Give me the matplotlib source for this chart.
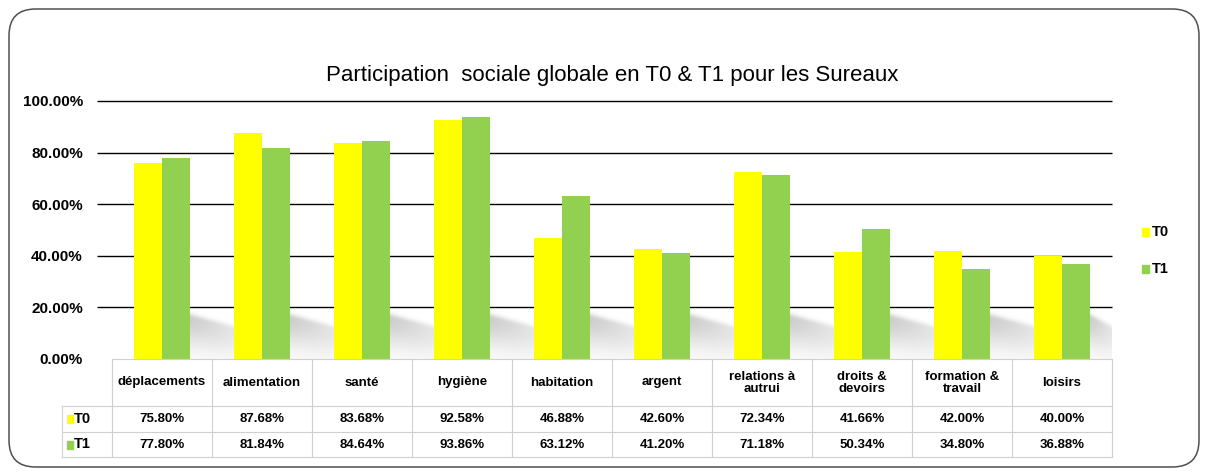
import numpy as np
import matplotlib
matplotlib.use("Agg")
import matplotlib.pyplot as plt
from matplotlib.patches import FancyBboxPatch, Rectangle
from matplotlib.lines import Line2D

plt.rcParams['font.family'] = ['Liberation Sans Narrow', 'Liberation Sans', 'DejaVu Sans']

# data
categories = ["déplacements", "alimentation", "santé", "hygiène", "habitation",
              "argent", "relations à\nautrui", "droits &\ndevoirs",
              "formation &\ntravail", "loisirs"]
t0 = [75.80, 87.68, 83.68, 92.58, 46.88, 42.60, 72.34, 41.66, 42.00, 40.00]
t1 = [77.80, 81.84, 84.64, 93.86, 63.12, 41.20, 71.18, 50.34, 34.80, 36.88]
series_names = ["T0", "T1"]
colors = ["#ffff00", "#92d050"]
yticks = [0, 20, 40, 60, 80, 100]

W, H = 1208, 474
fig = plt.figure(figsize=(W / 100, H / 100), dpi=100)

def fx(px):
    return px / W

def fy(py):
    return 1 - py / H

# outer rounded frame
frame = FancyBboxPatch((fx(9), fy(467)), fx(1190), (467 - 9) / H,
                       boxstyle="round,pad=0,rounding_size=0.022",
                       transform=fig.transFigure, fill=False,
                       edgecolor="#505050", linewidth=1.1,
                       mutation_aspect=W / H)
fig.patches.append(frame)

left_px, right_px, top_px, bot_px = 112, 1112, 101, 359
ax = fig.add_axes([fx(left_px), fy(bot_px), fx(right_px - left_px), (bot_px - top_px) / H])
n = len(categories)
x = np.arange(n)
bw = 0.28

# soft shadows in the gaps between groups
ss, tt = np.meshgrid(np.linspace(0, 1, 80), np.linspace(0, 1, 80))
centre = 0.75 - 0.22 * ss
d = tt - centre
alpha = np.where(d > 0, np.exp(-(d / 0.08) ** 2), np.exp(-(d / 0.5) ** 2))
alpha = 0.3 * alpha * (1 - 0.5 * ss)
rgba = np.zeros((80, 80, 4))
rgba[..., :3] = 0.35
rgba[..., 3] = alpha
for i in range(n):
    x0 = i + bw
    x1 = i + 1 - bw if i < n - 1 else n - 0.5
    ax.imshow(rgba, extent=[x0, x1, 0, 21], origin="lower", aspect="auto",
              zorder=1, interpolation="bilinear")
ax.set_xlim(-0.5, n - 0.5)
ax.set_ylim(0, 100)

# gridlines (extend a little left of the plot, like the original)
ax.hlines(yticks[1:], -0.65, n - 0.5, color="black", linewidth=1.0,
          zorder=0.5, clip_on=False)

ax.bar(x - bw / 2, t0, width=bw, color=colors[0], zorder=3)
ax.bar(x + bw / 2, t1, width=bw, color=colors[1], zorder=3)

ax.set_yticks(yticks)
ax.set_yticklabels(["%.2f%%" % v for v in yticks], fontsize=11, fontweight="bold")
ax.tick_params(axis="y", length=0, pad=21)
ax.set_xticks([])
for s in ax.spines.values():
    s.set_visible(False)

# title
fig.text(fx(612), fy(75), "Participation  sociale globale en T0 & T1 pour les Sureaux",
         ha="center", va="center", fontsize=16)

# data table below the plot
grid_c = "#d0d0d0"
row_y = [359, 406, 432, 457]
col_x = [left_px + 100 * i for i in range(n + 1)]
key_left = 62

def hline(y, xa, xb):
    fig.add_artist(Line2D([fx(xa), fx(xb)], [fy(y), fy(y)], color=grid_c, linewidth=0.8))

def vline(xp, ya, yb):
    fig.add_artist(Line2D([fx(xp), fx(xp)], [fy(ya), fy(yb)], color=grid_c, linewidth=0.8))

hline(row_y[0], left_px, right_px)
for yy in row_y[1:]:
    hline(yy, key_left, right_px)
vline(key_left, row_y[1], row_y[3])
for cx in col_x:
    vline(cx, row_y[0], row_y[3])

for i, cat in enumerate(categories):
    cx = fx(col_x[i] + 50)
    fig.text(cx, fy((row_y[0] + row_y[1]) / 2), cat, ha="center", va="center",
             fontsize=9.5, fontweight="bold", linespacing=1.0)
    fig.text(cx, fy((row_y[1] + row_y[2]) / 2), "%.2f%%" % t0[i], ha="center",
             va="center", fontsize=9.5, fontweight="bold")
    fig.text(cx, fy((row_y[2] + row_y[3]) / 2), "%.2f%%" % t1[i], ha="center",
             va="center", fontsize=9.5, fontweight="bold")

for k, name in enumerate(series_names):
    yc = (row_y[1 + k] + row_y[2 + k]) / 2
    fig.add_artist(Rectangle((fx(67), fy(yc + 4)), fx(6), 8 / H,
                             transform=fig.transFigure, color=colors[k]))
    fig.text(fx(74), fy(yc), name, ha="left", va="center", fontsize=10.5, fontweight="bold")

# legend on the right
for k, name in enumerate(series_names):
    yc = [232, 269][k]
    fig.add_artist(Rectangle((fx(1142), fy(yc + 4)), fx(7), 8 / H,
                             transform=fig.transFigure, color=colors[k]))
    fig.text(fx(1152), fy(yc), name, ha="left", va="center", fontsize=10.5, fontweight="bold")

fig.savefig("out.png", dpi=100)
